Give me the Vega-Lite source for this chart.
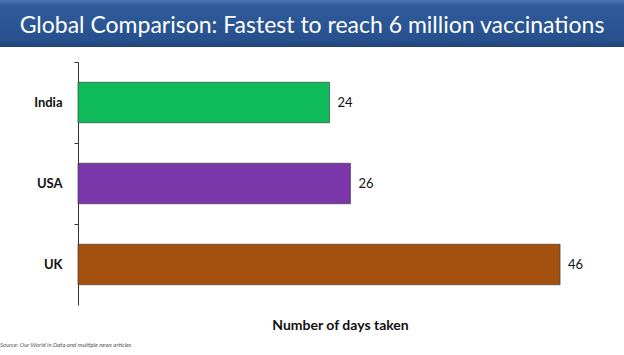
{
  "$schema": "https://vega.github.io/schema/vega-lite/v6.json",
  "padding": 0,
  "spacing": 14,
  "background": "white",
  "config": {"font": "Lato", "view": {"stroke": null}},
  "vconcat": [
    {
      "width": 624,
      "height": 47,
      "view": {
        "stroke": null,
        "fill": {"gradient": "linear", "x1": 0, "y1": 0, "x2": 0, "y2": 1,
          "stops": [{"offset": 0, "color": "#4a78b5"}, {"offset": 0.12, "color": "#2f5b9b"}, {"offset": 0.85, "color": "#27508d"}, {"offset": 1, "color": "#1f4378"}]}
      },
      "data": {"values": [{"heading": "Global Comparison: Fastest to reach 6 million vaccinations"}]},
      "mark": {"type": "text", "color": "white", "fontSize": 23, "font": "Lato", "baseline": "middle", "align": "center", "dy": 2},
      "encoding": {"text": {"field": "heading"}}
    },
    {
      "width": 624,
      "height": 243,
      "title": {"text": "Source: Our World in Data and multiple news articles", "orient": "bottom", "anchor": "start", "frame": "bounds", "fontSize": 6, "fontStyle": "italic", "fontWeight": "normal", "color": "#555555", "offset": 10},
      "data": {"values": [
        {"country": "India", "days": 24, "colour": "#0fba5b"},
        {"country": "USA", "days": 26, "colour": "#7b37aa"},
        {"country": "UK", "days": 46, "colour": "#a4510f"}
      ]},
      "encoding": {
        "y": {"field": "country", "type": "nominal", "sort": null,
          "scale": {"paddingInner": 0.5, "paddingOuter": 0.25},
          "axis": {"title": null, "offset": -78, "labelFont": "Lato", "labelFontWeight": "bold", "labelFontSize": 13, "labelColor": "#111111",
            "domainColor": "#333333", "tickColor": "#333333", "tickSize": 4, "tickOffset": -40.5, "labelOffset": 40.5, "labelPadding": 12}},
        "x": {"field": "days", "type": "quantitative", "scale": {"domain": [-7.44, 52.1], "zero": false, "nice": false},
          "axis": {"title": "Number of days taken", "titleX": 340, "titleFont": "Lato", "titleFontSize": 14, "titleFontWeight": "bold", "titleColor": "#111111",
            "labels": false, "ticks": false, "domain": false, "grid": false, "titlePadding": 13}}
      },
      "layer": [
        {"mark": {"type": "bar", "stroke": "#333333", "strokeWidth": 0.6},
          "encoding": {"color": {"field": "colour", "type": "nominal", "scale": null}}},
        {"mark": {"type": "text", "align": "left", "dx": 8, "fontSize": 13, "font": "Lato", "color": "#111111"},
          "encoding": {"text": {"field": "days"}}}
      ]
    }
  ]
}
